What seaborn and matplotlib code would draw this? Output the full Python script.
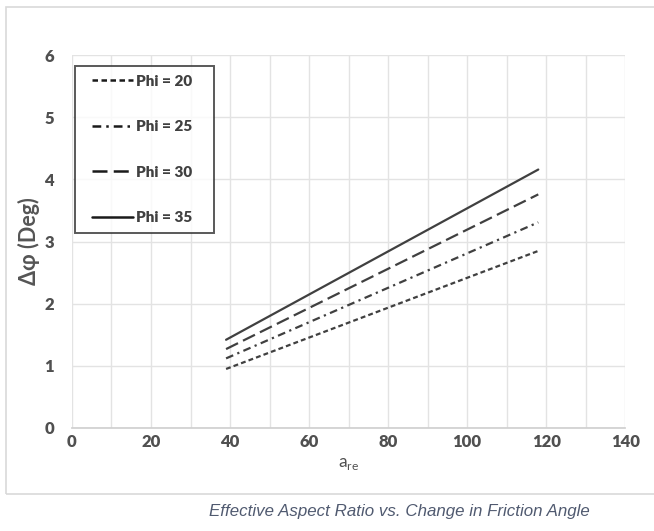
import matplotlib
matplotlib.use("Agg")
import matplotlib.pyplot as plt
import seaborn as sns
import pandas as pd
from matplotlib.patches import Rectangle
from matplotlib.lines import Line2D
from matplotlib.legend_handler import HandlerLine2D
from matplotlib.ticker import MultipleLocator

sns.set_theme(style="white")
plt.rcParams['font.family'] = ['Lato', 'DejaVu Sans']

# data
series = ["Phi = 20", "Phi = 25", "Phi = 30", "Phi = 35"]
x_vals = [39, 118]
phi20 = [0.95, 2.85]
phi25 = [1.12, 3.31]
phi30 = [1.27, 3.76]
phi35 = [1.42, 4.16]
x_ticks = [0, 20, 40, 60, 80, 100, 120, 140]
y_ticks = [0, 1, 2, 3, 4, 5, 6]

values = [phi20, phi25, phi30, phi35]
dashes = [(2.2, 1.4), (3.5, 2, 1, 2), (6, 2.5), ""]
line_color = "#404040"

fig = plt.figure(figsize=(6.54, 5.31), dpi=100)
ax = fig.add_axes([0.110, 0.194, 0.846, 0.702])

for name, vals, d in zip(series, values, dashes):
    df = pd.DataFrame({"x": x_vals, "y": vals})
    sns.lineplot(data=df, x="x", y="y", ax=ax, color=line_color, linewidth=1.6,
                 label=name)
    ln = ax.get_lines()[-1]
    if d:
        ln.set_dashes(d)

ax.set_xlim(0, 140)
ax.set_ylim(0, 6)
ax.set_xticks(x_ticks)
ax.set_yticks(y_ticks)
ax.xaxis.set_minor_locator(MultipleLocator(10))
ax.grid(True, which="both", color="#e3e3e3", linewidth=1.0)
ax.set_axisbelow(True)
for s in ["top", "right", "left"]:
    ax.spines[s].set_visible(False)
ax.spines["bottom"].set_color("#d0d0d0")
ax.tick_params(axis="both", which="both", length=0, labelsize=12, labelcolor="#505050")
ax.tick_params(axis="x", pad=4)
ax.tick_params(axis="y", pad=13)
for lab in ax.get_xticklabels() + ax.get_yticklabels():
    lab.set_fontweight("heavy")

ax.set_xlabel("a$_{\\mathregular{re}}$", fontsize=12.5, color="#505050", labelpad=5)
ax.set_ylabel("Δφ (Deg)", fontsize=15.5, color="#555555", fontweight="bold", labelpad=3)

leg = ax.legend(loc="upper left", bbox_to_anchor=(0.005, 0.5, 0.251, 0.472),
                mode="expand", borderaxespad=0,
                frameon=True, fancybox=False, handlelength=3.2, labelspacing=2.12,
                borderpad=0.6, handletextpad=0.2,
                handler_map={Line2D: HandlerLine2D(xpad=0.53)},
                prop={"family": "Lato", "weight": "heavy", "size": 11})
leg.get_frame().set_edgecolor("#303030")
leg.get_frame().set_linewidth(1.4)
for t in leg.get_texts():
    t.set_color("#404040")
for h in leg.get_lines():
    h.set_color("#1a1a1a")
    h.set_linewidth(1.8)

# outer chart border
fig.patches.append(Rectangle((0.009, 0.070), 1.0, 0.917, transform=fig.transFigure,
                             fill=False, edgecolor="#d9d9d9", linewidth=1.2))

fig.text(0.61, 0.036, "Effective Aspect Ratio vs. Change in Friction Angle",
         ha="center", va="center", fontsize=12.2, style="italic",
         family="Liberation Sans", color="#505a70")

fig.savefig("out.png", dpi=100)
